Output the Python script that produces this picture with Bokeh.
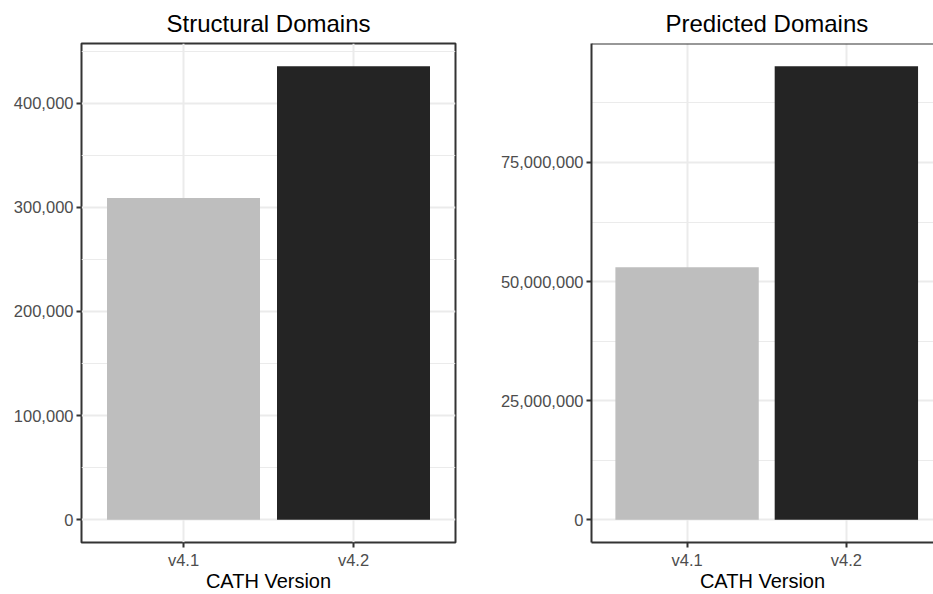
from bokeh.plotting import figure
from bokeh.models import ColumnDataSource, Range1d, FixedTicker, NumeralTickFormatter, Span
from bokeh.layouts import row
from bokeh.embed import file_html
from bokeh.resources import INLINE

# ---- data ----
versions = ["v4.1", "v4.2"]
structural_domains = [309000, 435500]
predicted_domains = [53000000, 95200000]
bar_colors = ["#BEBEBE", "#242424"]
structural_ticks = [0, 100000, 200000, 300000, 400000]
structural_minor = [50000, 150000, 250000, 350000, 450000]
predicted_ticks = [0, 25000000, 50000000, 75000000]
predicted_minor = [12500000, 37500000, 62500000, 87500000]
x_title = "CATH Version"

FONT = "Liberation Sans"
DARK = "#333333"
GRID = "#EBEBEB"


def make_panel(title, values, yticks, yminor, width, border_left, border_right,
               x_end, outline, title_align="center", title_offset=0):
    xs = list(range(1, len(versions) + 1))
    src = ColumnDataSource(dict(x=xs, version=versions, value=values, color=bar_colors))
    ymax = max(values)
    p = figure(width=width, height=594,
               x_range=Range1d(0.4, x_end),
               y_range=Range1d(-0.05 * ymax, 1.05 * ymax),
               output_backend="svg", toolbar_location=None,
               min_border_left=border_left, min_border_right=border_right,
               min_border_top=43, min_border_bottom=52)
    p.background_fill_color = "white"
    p.border_fill_color = "white"

    p.vbar(x="x", top="value", bottom=0, width=0.9, fill_color="color",
           line_color=None, source=src)

    # title
    p.title.text = title
    p.title.text_font = FONT
    p.title.text_font_size = "24px"
    p.title.text_font_style = "normal"
    p.title.text_color = "black"
    p.title.align = title_align
    p.title.offset = title_offset
    p.title.standoff = 14

    # x axis
    p.xaxis.ticker = FixedTicker(ticks=xs, minor_ticks=[])
    p.xaxis.major_label_overrides = {x: v for x, v in zip(xs, versions)}
    p.xaxis.axis_label = x_title
    # y axis
    p.yaxis.ticker = FixedTicker(ticks=yticks, minor_ticks=yminor)
    p.yaxis.formatter = NumeralTickFormatter(format="0,0")

    for ax in (p.xaxis, p.yaxis):
        ax.major_label_text_font = FONT
        ax.major_label_text_font_size = "16.5px"
        ax.major_label_text_color = "#4D4D4D"
        ax.major_tick_line_color = DARK
        ax.major_tick_line_width = 2
        ax.major_tick_out = 5
        ax.major_tick_in = 0
        ax.minor_tick_line_color = None
        ax.major_label_standoff = 3
        ax.axis_label_text_font = FONT
        ax.axis_label_text_font_size = "20px"
        ax.axis_label_text_font_style = "normal"
        ax.axis_label_text_color = "black"
        ax.axis_label_standoff = -2

    p.xgrid.grid_line_color = GRID
    p.xgrid.grid_line_width = 2
    p.ygrid.grid_line_color = GRID
    p.ygrid.grid_line_width = 2
    p.ygrid.minor_grid_line_color = GRID
    p.ygrid.minor_grid_line_width = 1

    if outline:
        p.outline_line_color = DARK
        p.outline_line_width = 2
        p.outline_line_alpha = 1
        p.xaxis.axis_line_color = None
        p.yaxis.axis_line_color = None
    else:
        # panel continues past the window's right edge: draw left, bottom and top borders only
        p.outline_line_color = None
        p.xaxis.axis_line_color = DARK
        p.xaxis.axis_line_width = 2
        p.yaxis.axis_line_color = DARK
        p.yaxis.axis_line_width = 2
        p.add_layout(Span(location=1.05 * ymax, dimension="width",
                          line_color=DARK, line_width=2))
    return p


p1 = make_panel("Structural Domains", structural_domains, structural_ticks, structural_minor,
                width=478, border_left=81, border_right=23, x_end=2.6, outline=True)
p2 = make_panel("Predicted Domains", predicted_domains, predicted_ticks, predicted_minor,
                width=455, border_left=113, border_right=0, x_end=2.547, outline=False,
                title_align="left", title_offset=74)

layout = row(p1, p2)
open("out.html", "w").write(file_html(layout, INLINE))
